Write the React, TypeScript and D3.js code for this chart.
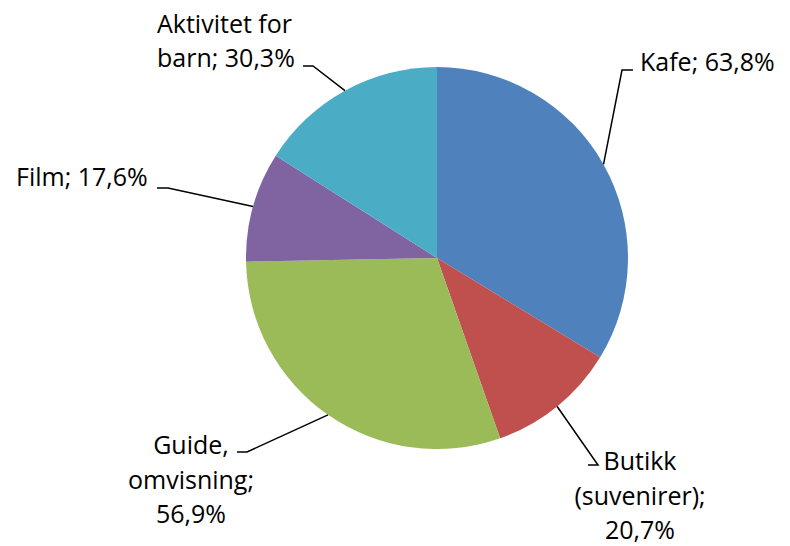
import React from 'react';
import * as d3 from 'd3';

const categories = ['Kafe', 'Butikk (suvenirer)', 'Guide, omvisning', 'Film', 'Aktivitet for barn'];
const values = [63.8, 20.7, 56.9, 17.6, 30.3];
const colors = ['#4F81BD', '#C0504D', '#9BBB59', '#8064A2', '#4BACC6'];

// label text lines and the elbow where each leader line meets its label
const labelLines = [
  ['Kafe; 63,8%'],
  ['Butikk', '(suvenirer);', '20,7%'],
  ['Guide,', 'omvisning;', '56,9%'],
  ['Film; 17,6%'],
  ['Aktivitet for', 'barn; 30,3%'],
];
const labelLayout = [
  { ex: 622, ey: 70, hx: 633, tx: 640, ty: 71, anchor: 'start', firstLine: 0 },
  { ex: 598, ey: 465, hx: 588, tx: 640, ty: 470, anchor: 'middle', firstLine: 0 },
  { ex: 247, ey: 452, hx: 237, tx: 191, ty: 454, anchor: 'middle', firstLine: 0 },
  { ex: 168, ey: 188, hx: 157, tx: 16, ty: 186, anchor: 'start', firstLine: 0 },
  { ex: 313, ey: 66, hx: 303, tx: 157, ty: 67, anchor: 'start', firstLine: 1 },
];

const W = 790;
const H = 546;
const cx = 437;
const cy = 258;
const R = 191;
const lineH = 34.5;

export default function App() {
  const pie = d3.pie<number>().sort(null).value(d => d)(values);
  const arc = d3.arc<d3.PieArcDatum<number>>().innerRadius(0).outerRadius(R);

  return (
    <svg width={W} height={H} style={{ position: 'absolute', left: 0, top: 0 }}
      fontFamily="'Open Sans', sans-serif" fontSize={25}>
      <rect width={W} height={H} fill="#fff" />
      <g transform={`translate(${cx},${cy})`}>
        {pie.map((p, i) => (
          <path key={categories[i]} d={arc(p) || ''} fill={colors[i]} />
        ))}
      </g>
      {pie.map((p, i) => {
        const mid = (p.startAngle + p.endAngle) / 2;
        const px = cx + R * Math.sin(mid);
        const py = cy - R * Math.cos(mid);
        const l = labelLayout[i];
        return (
          <g key={'lbl' + i}>
            <polyline points={`${px},${py} ${l.ex},${l.ey} ${l.hx},${l.ey}`}
              fill="none" stroke="#000" strokeWidth={1.5} />
            <text textAnchor={l.anchor} fill="#000">
              {labelLines[i].map((t, j) => (
                <tspan key={j} x={l.tx} y={l.ty + (j - l.firstLine) * lineH}>{t}</tspan>
              ))}
            </text>
          </g>
        );
      })}
    </svg>
  );
}
